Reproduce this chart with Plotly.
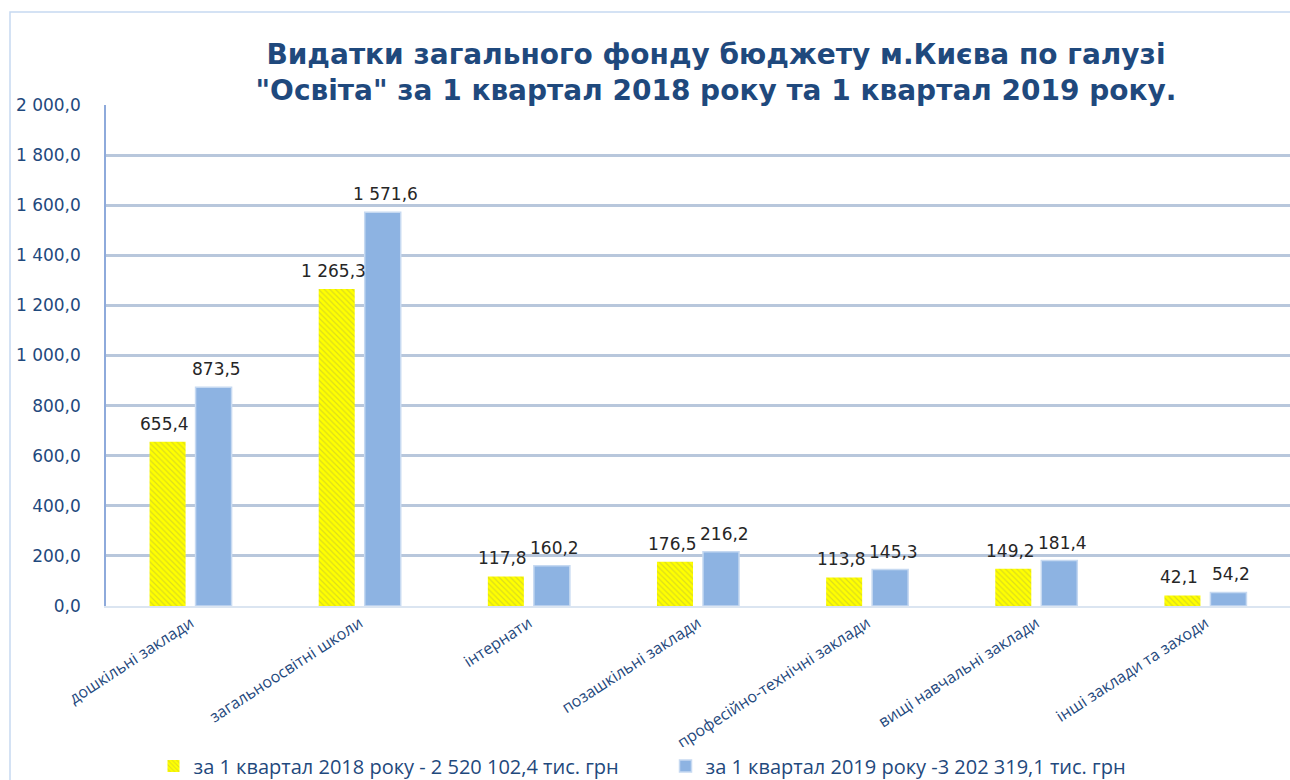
import plotly.graph_objects as go

categories = ["дошкільні заклади", "загальноосвітні школи", "інтернати",
              "позашкільні заклади", "професійно-технічні заклади",
              "вищі навчальні заклади", "інші заклади та заходи"]
q1_2018 = [655.4, 1265.3, 117.8, 176.5, 113.8, 149.2, 42.1]
q1_2019 = [873.5, 1571.6, 160.2, 216.2, 145.3, 181.4, 54.2]
name_2018 = "за 1 квартал 2018 року - 2 520 102,4 тис. грн"
name_2019 = "за 1 квартал 2019 року -3 202 319,1 тис. грн"
y_ticks = [0, 200, 400, 600, 800, 1000, 1200, 1400, 1600, 1800, 2000]


def fmt(v):
    # "1 571,6" style: space thousands, comma decimal
    s = f"{v:,.1f}"
    return s.replace(",", " ").replace(".", ",")


fig = go.Figure()
fig.add_trace(go.Bar(
    x=categories, y=q1_2018, name=name_2018,
    marker=dict(color="#ffff00", line=dict(width=0),
                pattern=dict(shape="\\", fgcolor="#b8b83c", bgcolor="#ffff00",
                             size=4, solidity=0.3)),
))
fig.add_trace(go.Bar(
    x=categories, y=q1_2019, name=name_2019,
    marker=dict(color="#8db3e2", line=dict(color="#c6d9f1", width=1.5)),
))

# value labels as annotations so they sit on top of neighbouring bars
for vals, dx in [(q1_2018, -26), (q1_2019, 26)]:
    for c, v in zip(categories, vals):
        fig.add_annotation(x=c, y=v, text=fmt(v), showarrow=False,
                           xshift=dx, yshift=6, yanchor="bottom",
                           font=dict(family="DejaVu Sans", size=17, color="#262626"))

# light frame around the chart
W, L, T, H = 1184, 106, 105, 501
fig.add_shape(type="rect", xref="paper", yref="paper",
              x0=(10 - L) / W, x1=1.02, y0=-(800 - 606) / H, y1=(606 - 12) / H,
              line=dict(color="#c6d9f1", width=1.5), fillcolor="rgba(0,0,0,0)", layer="below")

fig.update_layout(
    width=1290, height=780,
    margin=dict(l=L, r=0, t=T, b=780 - 606, autoexpand=False),
    paper_bgcolor="white", plot_bgcolor="white",
    barmode="group", bargap=0.456, bargroupgap=0.217,
    title=dict(text="Видатки загального фонду бюджету м.Києва по галузі<br>\"Освіта\" за 1 квартал 2018 року та 1 квартал 2019 року.",
               x=0.555, xanchor="center", xref="container",
               y=1 - 64 / 780, yanchor="top", yref="container",
               font=dict(family="DejaVu Sans", size=28, color="#1f497d", weight="bold")),
    showlegend=True,
    legend=dict(orientation="h", x=0.119, xanchor="left", y=1 - 766 / 780, yanchor="middle",
                xref="container", yref="container", entrywidth=467,
                font=dict(family="Open Sans", size=20, color="#1f497d"),
                traceorder="normal"),
    xaxis=dict(tickangle=-33, showgrid=False, showline=True, linecolor="#dbe5f1", linewidth=1.5,
               tickfont=dict(family="Open Sans", size=16, color="#1f497d"), ticks=""),
    yaxis=dict(range=[0, 2000], tickvals=y_ticks, ticktext=[fmt(v) for v in y_ticks],
               showgrid=True, gridcolor="#b8c7dc", gridwidth=2.5,
               showline=True, linecolor="#8eaadb", linewidth=1.5, zeroline=False,
               ticks="", ticklabelstandoff=20,
               tickfont=dict(family="DejaVu Sans", size=17, color="#1f497d")),
)

fig.write_html("out.html", config={"displayModeBar": False},
               post_script="document.body.style.margin='0';")
